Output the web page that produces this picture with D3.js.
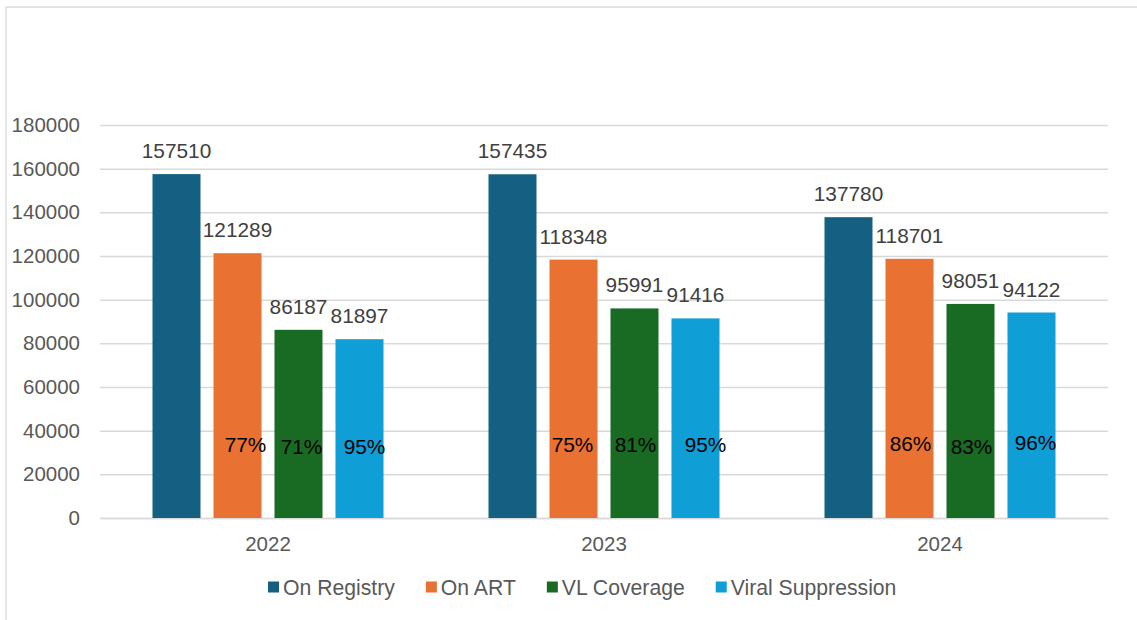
<!DOCTYPE html>
<html>
<head>
<meta charset="utf-8">
<script src="https://cdn.jsdelivr.net/npm/d3@7"></script>
<style>
  html, body { margin: 0; padding: 0; background: #fff; }
  svg { display: block; font-family: "Liberation Sans", Arial, sans-serif; }
</style>
</head>
<body>
<svg id="chart" width="1137" height="620"></svg>
<script>
// Cascade data: people on registry, on ART, with VL test, virally suppressed
const years = ["2022", "2023", "2024"];
const seriesNames = ["On Registry", "On ART", "VL Coverage", "Viral Suppression"];
const onRegistry = [157510, 157435, 137780];
const onART = [121289, 118348, 118701];
const vlCoverage = [86187, 95991, 98051];
const viralSuppression = [81897, 91416, 94122];
// Step-to-step percentages shown inside the ART, VL and suppression bars
const pctART = ["77%", "75%", "86%"];
const pctVL = ["71%", "81%", "83%"];
const pctVS = ["95%", "95%", "96%"];
const yTicks = [0, 20000, 40000, 60000, 80000, 100000, 120000, 140000, 160000, 180000];

const colors = ["#156082", "#E97132", "#196B24", "#0F9ED5"];
const seriesValues = [onRegistry, onART, vlCoverage, viralSuppression];
const pctLabels = [null, pctART, pctVL, pctVS];

// small hand placement of the percentage labels, [dx, dy] per year and series
const pctNudge = [
  [null, [8, 0], [3, 2], [5, 2]],
  [null, [-1, 0], [1, 0], [10, 0]],
  [null, [1, -1], [1, 2], [4, -2]]
];

const svg = d3.select("#chart");
const plot = { left: 100, right: 1108, top: 125, bottom: 518 };

// frame of the chart area
svg.append("line").attr("x1", 6).attr("x2", 1137).attr("y1", 7).attr("y2", 7)
  .attr("stroke", "#d9d9d9").attr("stroke-width", 1.3);
svg.append("line").attr("x1", 6).attr("x2", 6).attr("y1", 7).attr("y2", 620)
  .attr("stroke", "#d9d9d9").attr("stroke-width", 1.3);

const y = d3.scaleLinear().domain([0, 180000]).range([plot.bottom, plot.top]);
const x0 = d3.scaleBand().domain(years).range([plot.left, plot.right]).padding(0);
const groupPad = 52.5;
const x1 = d3.scaleBand().domain(seriesNames)
  .range([groupPad, x0.bandwidth() - groupPad])
  .paddingInner(13 / 61).paddingOuter(0);

// gridlines and value axis
const yAxis = d3.axisLeft(y).tickValues(yTicks).tickSize(-(plot.right - plot.left))
  .tickPadding(20).tickFormat(d3.format("d"));
const gy = svg.append("g").attr("transform", `translate(${plot.left},0)`).call(yAxis);
gy.select(".domain").remove();
gy.selectAll(".tick line").attr("stroke", "#d9d9d9").attr("stroke-width", 1.5);
gy.selectAll(".tick text").attr("fill", "#595959").attr("font-size", "20.5px")
  .attr("font-family", "Liberation Sans, Arial, sans-serif");

// category axis
const xAxis = d3.axisBottom(x0).tickSize(0).tickPadding(18);
const gx = svg.append("g").attr("transform", `translate(0,${plot.bottom})`).call(xAxis);
gx.select(".domain").attr("stroke", "#d9d9d9").attr("stroke-width", 1.5);
gx.selectAll(".tick text").attr("fill", "#595959").attr("font-size", "20.5px")
  .attr("font-family", "Liberation Sans, Arial, sans-serif");

// bars
const groups = svg.append("g").selectAll("g").data(years).join("g")
  .attr("transform", d => `translate(${x0(d)},0)`);

groups.each(function (year, yi) {
  const g = d3.select(this);
  seriesNames.forEach((name, si) => {
    const v = seriesValues[si][yi];
    const bx = x1(name);
    g.append("rect")
      .attr("x", bx).attr("width", x1.bandwidth())
      .attr("y", y(v)).attr("height", y(0) - y(v))
      .attr("fill", colors[si]);
    g.append("text")
      .attr("x", bx + x1.bandwidth() / 2).attr("y", y(v) - 16)
      .attr("text-anchor", "middle").attr("fill", "#404040")
      .attr("font-size", "20.8px").text(v);
    if (pctLabels[si]) {
      const n = pctNudge[yi][si];
      g.append("text")
        .attr("x", bx + x1.bandwidth() / 2 + n[0]).attr("y", y(0) - 66 + n[1])
        .attr("text-anchor", "middle").attr("fill", "#000")
        .attr("font-size", "20.8px").text(pctLabels[si][yi]);
    }
  });
});

// legend
const legend = svg.append("g").attr("transform", "translate(268,587)");
let lx = 0;
seriesNames.forEach((name, i) => {
  const item = legend.append("g").attr("transform", `translate(${lx},0)`);
  item.append("rect").attr("x", 0).attr("y", -5.5).attr("width", 11).attr("height", 11)
    .attr("fill", colors[i]);
  const t = item.append("text").attr("x", 15).attr("y", 7.5)
    .attr("fill", "#595959").attr("font-size", "21.2px").text(name);
  lx += 15 + t.node().getComputedTextLength() + 31;
});
</script>
</body>
</html>
